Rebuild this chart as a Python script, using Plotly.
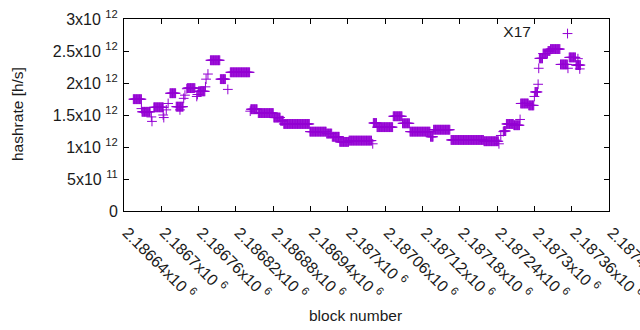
import plotly.graph_objects as go

# Runs of constant hashrate: first block, last block, hashrate (h/s)
run_first = [2186655, 2186668, 2186669, 2186684, 2186685, 2186688, 2186703, 2186704,
             2186708, 2186711, 2186714, 2186724, 2186730, 2186736, 2186738, 2186741,
             2186742, 2186757, 2186758, 2186760, 2186771, 2186772, 2186775, 2186779,
             2186795, 2186807, 2186811, 2186843, 2186844, 2186856, 2186881, 2186892,
             2186897, 2186939, 2186966, 2186975, 2186987, 2187002, 2187040, 2187041,
             2187047, 2187073, 2187088, 2187100, 2187133, 2187138, 2187166, 2187219,
             2187243, 2187246, 2187250, 2187251, 2187255, 2187267, 2187277, 2187278,
             2187291, 2187300, 2187301, 2187306, 2187307, 2187308, 2187314, 2187322,
             2187326, 2187342, 2187354, 2187356, 2187367, 2187370, 2187373]
run_last = [2186668, 2186668, 2186682, 2186684, 2186685, 2186703, 2186703, 2186704,
            2186708, 2186711, 2186723, 2186735, 2186730, 2186736, 2186738, 2186741,
            2186754, 2186757, 2186758, 2186770, 2186771, 2186772, 2186775, 2186794,
            2186803, 2186807, 2186842, 2186843, 2186854, 2186880, 2186891, 2186896,
            2186938, 2186965, 2186974, 2186986, 2187001, 2187038, 2187040, 2187046,
            2187072, 2187087, 2187099, 2187132, 2187137, 2187164, 2187218, 2187242,
            2187243, 2187246, 2187250, 2187254, 2187266, 2187276, 2187277, 2187290,
            2187299, 2187300, 2187305, 2187306, 2187307, 2187313, 2187321, 2187325,
            2187341, 2187353, 2187354, 2187366, 2187374, 2187370, 2187373]
run_hashrate = [1.747e12, 1.60e12, 1.55e12, 1.47e12, 1.40e12, 1.62e12, 1.50e12, 1.46e12,
                1.58e12, 1.68e12, 1.84e12, 1.63e12, 1.58e12, 1.76e12, 1.81e12, 1.91e12,
                1.92e12, 1.79e12, 1.82e12, 1.87e12, 1.94e12, 2.06e12, 2.14e12, 2.355e12,
                2.06e12, 1.90e12, 2.167e12, 1.56e12, 1.59e12, 1.53e12, 1.46e12, 1.41e12,
                1.36e12, 1.24e12, 1.21e12, 1.16e12, 1.08e12, 1.10e12, 1.05e12, 1.375e12,
                1.31e12, 1.48e12, 1.37e12, 1.24e12, 1.16e12, 1.27e12, 1.11e12, 1.09e12,
                1.05e12, 1.18e12, 1.24e12, 1.25e12, 1.36e12, 1.34e12, 1.43e12, 1.68e12,
                1.65e12, 1.79e12, 1.86e12, 1.98e12, 2.23e12, 2.385e12, 2.46e12, 2.50e12,
                2.53e12, 2.29e12, 2.23e12, 2.40e12, 2.28e12, 2.38e12, 2.22e12]

y_tickvals = [0, 5e11, 1e12, 1.5e12, 2e12, 2.5e12, 3e12]
y_ticktext = ["0", "5x10 <sup>11</sup>", "1x10 <sup>12</sup>", "1.5x10 <sup>12</sup>",
              "2x10 <sup>12</sup>", "2.5x10 <sup>12</sup>", "3x10 <sup>12</sup>"]
x_tickvals = [2186640 + 60 * i for i in range(14)]
x_ticktext = ["2.18664x10 <sup>6</sup>", "2.1867x10 <sup>6</sup>", "2.18676x10 <sup>6</sup>",
              "2.18682x10 <sup>6</sup>", "2.18688x10 <sup>6</sup>", "2.18694x10 <sup>6</sup>",
              "2.187x10 <sup>6</sup>", "2.18706x10 <sup>6</sup>", "2.18712x10 <sup>6</sup>",
              "2.18718x10 <sup>6</sup>", "2.18724x10 <sup>6</sup>", "2.1873x10 <sup>6</sup>",
              "2.18736x10 <sup>6</sup>", "2.18742x10 <sup>6</sup>"]

blocks, rates = [], []
for s, e, v in zip(run_first, run_last, run_hashrate):
    for b in range(s, e + 1):
        blocks.append(b)
        rates.append(v)

color = "#9400D3"
FONT = "Liberation Sans, Arial, sans-serif"
TXT = "#1a1a1a"

fig = go.Figure()
fig.add_trace(go.Scatter(
    x=blocks, y=rates, mode="markers", name="",
    marker=dict(symbol="cross-thin", size=7, color=color,
                line=dict(color=color, width=1)),
    showlegend=True, hoverinfo="skip",
))

axis_common = dict(showline=True, linecolor="black", linewidth=1, mirror="allticks",
                   ticks="inside", ticklen=5, tickcolor="black", showgrid=False,
                   zeroline=False, automargin=False, ticklabeloverflow="allow",
                   tickfont=dict(family=FONT, size=16, color=TXT))

fig.update_layout(
    width=640, height=330,
    margin=dict(l=124, r=31, t=19, b=119),
    paper_bgcolor="white", plot_bgcolor="white",
    font=dict(family=FONT, size=16, color=TXT),
    xaxis=dict(range=[2186640, 2187420], tickvals=x_tickvals,
               ticktext=["\u00a0" + t for t in x_ticktext],
               tickangle=45, ticklabelstandoff=2, **axis_common),
    yaxis=dict(range=[0, 3e12], tickvals=y_tickvals, ticktext=y_ticktext,
               ticklabelstandoff=2, **axis_common),
    legend=dict(x=0.778, y=0.922, xanchor="left", yanchor="middle",
                bgcolor="rgba(0,0,0,0)",
                title=dict(text="X17\u00a0\u00a0", side="left",
                           font=dict(family=FONT, size=15.5, color=TXT)),
                font=dict(family=FONT, size=15.5)),
    showlegend=True,
    annotations=[
        dict(text="block number", xref="paper", yref="paper",
             x=(355.5 - 124) / 485, y=(211 - 315) / 192,
             xanchor="center", yanchor="middle", showarrow=False,
             font=dict(family=FONT, size=15.5, color=TXT)),
        dict(text="hashrate [h/s]", xref="paper", yref="paper",
             x=(17 - 124) / 485, y=(211 - 114) / 192, textangle=-90,
             xanchor="center", yanchor="middle", showarrow=False,
             font=dict(family=FONT, size=15.5, color=TXT)),
    ],
)

fig.write_html("out.html",
               config={"displayModeBar": False},
               post_script="document.body.style.margin='0';"
                           "document.body.style.overflow='hidden';")
